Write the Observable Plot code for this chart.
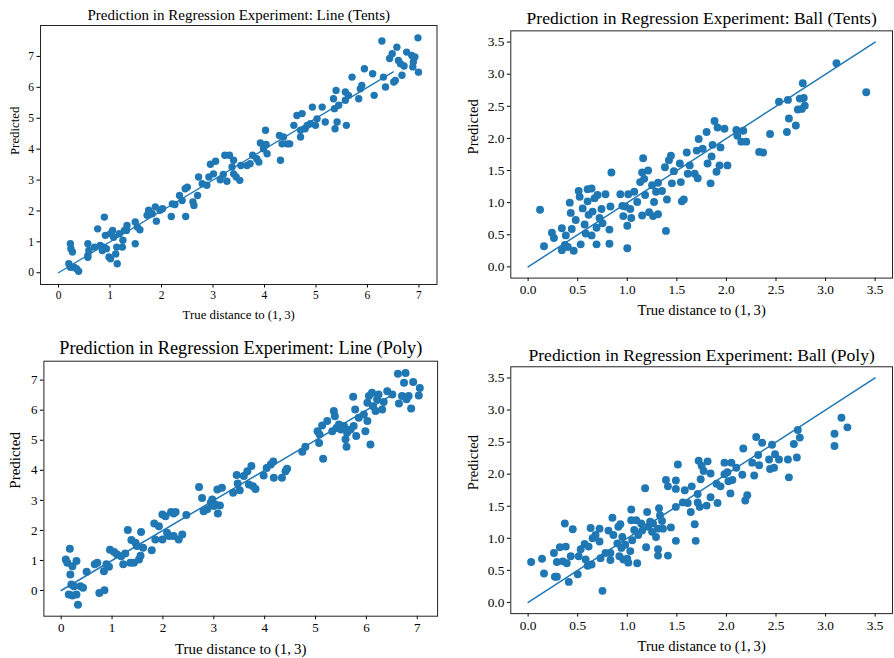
<!DOCTYPE html>
<html>
<head>
<meta charset="utf-8">
<script src="https://cdn.jsdelivr.net/npm/d3@7"></script>
<script src="https://cdn.jsdelivr.net/npm/@observablehq/plot@0.6"></script>
<style>
  html, body { margin: 0; padding: 0; background: #fff; overflow: hidden; }
  #wrap { position: relative; width: 894px; height: 658px; overflow: hidden; background: #fff; }
  #wrap > div { position: absolute; }
  svg { display: block; }
  svg, svg text { font-family: 'Liberation Serif','Times New Roman',serif !important; font-variant: normal !important; }
</style>
</head>
<body>
<div id="wrap">
  <div id="p1" style="left:0px;top:0px"></div>
  <div id="p2" style="left:447px;top:0px"></div>
  <div id="p3" style="left:0px;top:329px"></div>
  <div id="p4" style="left:447px;top:329px"></div>
</div>
<script>
// ---------- DATA ----------
const titles = [
  "Prediction in Regression Experiment: Line (Tents)",
  "Prediction in Regression Experiment: Ball (Tents)",
  "Prediction in Regression Experiment: Line (Poly)",
  "Prediction in Regression Experiment: Ball (Poly)"
];
const xLabel = "True distance to (1,\u20093)";
const yLabel = "Predicted";

const lineTicks = [0, 1, 2, 3, 4, 5, 6, 7];
const ballTicks = [0, 0.5, 1, 1.5, 2, 2.5, 3, 3.5];

// reference (ideal) lines: [true, predicted]
const lineRef = [[0, 0], [6.5, 6.5]];
const ballRef = [[0, 0], [3.5, 3.5]];

// [true distance, predicted]
const lineTents = [[0.23,0.94],[0.24,0.78],[0.27,0.67],[0.20,0.29],[0.23,0.18],[0.30,0.18],[0.39,0.05],[0.35,0.13],
[0.57,0.94],[0.57,0.56],[0.57,0.50],[0.59,0.72],[0.76,1.42],[0.70,0.83],[0.81,0.88],[0.89,1.80],[0.91,1.21],[0.88,0.83],[0.85,0.72],[0.93,0.78],[0.98,0.51],[1.01,0.45],[1.05,1.37],[1.01,1.26],[1.07,1.15],[1.11,0.61],[1.14,0.29],[1.13,0.83],[1.18,1.26],[1.25,1.05],[1.24,0.83],[1.28,1.37],[1.33,1.53],[1.32,1.37],[1.49,0.94],[1.49,1.64],[1.53,1.48],[1.58,1.39],[1.72,1.86],[1.75,2.02],[1.82,1.91],[1.88,2.13],[1.90,1.67],[1.97,2.02],[2.02,2.07],[2.19,1.82],[2.21,2.23],[2.26,2.21],[2.35,2.50],[2.40,2.34],[2.47,1.82],[2.46,2.72],[2.50,2.77],[2.61,2.29],[2.63,2.18],[2.70,2.50],[2.72,3.10],[2.79,2.88],[2.88,2.83],[2.92,3.10],[2.95,3.51],[3.05,3.61],[3.01,3.20],[3.14,3.01],[3.20,3.18],[3.23,3.80],[3.27,2.96],[3.32,3.80],[3.40,3.64],[3.37,3.42],[3.40,3.20],[3.45,3.10],[3.52,2.99],[3.54,3.47],[3.66,3.47],[3.72,3.53],[3.77,3.80],[3.85,3.69],[3.89,3.58],[3.92,4.20],[4.02,4.61],[4.03,4.15],[4.05,3.85],[3.98,4.01],[4.31,3.64],[4.29,4.44],[4.34,4.17],[4.37,4.39],[4.44,4.17],[4.49,4.17],[4.57,4.77],[4.63,5.09],[4.70,4.61],[4.70,4.39],[4.73,5.15],[4.79,4.66],[4.83,4.77],[4.89,4.82],[4.93,5.36],[4.99,4.77],[5.02,4.98],[5.12,5.36],[5.18,4.88],[5.34,5.63],[5.36,5.31],[5.37,4.66],[5.39,5.90],[5.41,4.88],[5.44,5.42],[5.57,5.58],[5.57,5.85],[5.59,4.77],[5.63,5.74],[5.70,6.33],[5.83,5.63],[5.86,5.95],[5.89,6.06],[5.94,6.60],[6.10,6.44],[6.13,5.74],[6.28,7.50],[6.31,6.33],[6.35,6.01],[6.43,6.93],[6.48,7.09],[6.51,6.17],[6.54,6.22],[6.57,7.30],[6.60,6.87],[6.64,6.76],[6.67,6.39],[6.71,6.69],[6.76,7.14],[6.86,7.03],[6.89,6.82],[6.92,6.98],[6.88,6.66],[6.98,7.60],[6.99,6.49]];

const ballTents = [[0.12,0.89],[0.16,0.32],[0.24,0.53],[0.26,0.45],[0.34,0.60],[0.34,0.26],[0.37,0.34],[0.38,0.49],[0.40,0.31],[0.42,1.00],[0.44,0.59],[0.46,0.25],[0.43,0.84],[0.48,0.73],[0.51,1.18],[0.52,1.09],[0.53,0.35],[0.55,0.91],[0.57,0.66],[0.58,0.52],[0.60,1.21],[0.60,1.02],[0.61,0.81],[0.64,1.22],[0.65,0.86],[0.64,0.49],[0.67,1.07],[0.69,0.35],[0.70,1.12],[0.69,0.61],[0.72,0.76],[0.74,0.90],[0.75,0.68],[0.78,1.13],[0.82,0.36],[0.82,0.58],[0.83,0.94],[0.84,1.47],[0.93,1.13],[0.95,0.95],[0.96,0.79],[0.98,0.94],[1.00,0.29],[1.00,0.64],[1.01,1.13],[1.03,0.90],[1.04,0.76],[1.07,1.17],[1.10,1.01],[1.13,1.32],[1.15,0.80],[1.15,1.47],[1.16,1.69],[1.17,1.37],[1.18,1.12],[1.21,1.50],[1.22,0.85],[1.25,1.27],[1.26,0.79],[1.27,1.01],[1.29,1.17],[1.31,0.82],[1.31,1.31],[1.35,1.18],[1.38,1.55],[1.39,0.56],[1.40,1.05],[1.42,1.66],[1.44,1.73],[1.45,1.30],[1.47,1.49],[1.53,1.61],[1.54,1.32],[1.55,1.02],[1.57,1.05],[1.60,1.78],[1.61,1.45],[1.63,1.58],[1.68,1.45],[1.70,1.81],[1.71,1.38],[1.72,1.99],[1.76,1.84],[1.80,2.10],[1.81,1.61],[1.84,1.30],[1.85,1.72],[1.86,1.90],[1.88,2.27],[1.90,1.48],[1.91,2.17],[1.93,1.58],[1.94,1.86],[1.98,2.15],[2.01,1.58],[2.10,2.13],[2.11,2.04],[2.15,1.95],[2.17,2.12],[2.20,1.95],[2.33,1.79],[2.37,1.78],[2.44,2.07],[2.53,2.57],[2.61,2.10],[2.62,2.60],[2.63,2.31],[2.70,2.20],[2.72,2.45],[2.74,2.62],[2.76,2.46],[2.77,2.86],[2.78,2.63],[2.79,2.51],[3.11,3.17],[3.41,2.72]];

const linePoly = [[0.09,1.03],[0.12,0.92],[0.17,1.39],[0.18,0.53],[0.22,0.81],[0.30,0.98],[0.20,0.20],[0.25,0.14],[0.15,-0.13],[0.22,-0.17],[0.30,-0.13],[0.33,-0.47],[0.38,0.14],[0.43,0.09],[0.50,0.62],[0.66,0.87],[0.71,0.92],[0.75,-0.08],[0.85,0.01],[0.84,0.64],[0.89,0.87],[0.94,0.79],[0.96,1.36],[1.04,1.28],[1.10,1.20],[1.18,1.14],[1.22,0.87],[1.26,1.23],[1.31,2.01],[1.36,0.92],[1.38,1.68],[1.43,0.92],[1.46,1.59],[1.49,1.48],[1.53,1.03],[1.56,1.16],[1.57,1.95],[1.61,1.42],[1.78,1.34],[1.83,2.23],[1.85,1.70],[1.92,2.14],[1.99,2.53],[1.99,1.70],[2.05,2.47],[2.08,1.92],[2.12,1.81],[2.16,2.61],[2.21,2.56],[2.25,2.61],[2.21,1.81],[2.31,1.70],[2.38,1.86],[2.46,2.51],[2.71,3.44],[2.77,3.08],[2.80,2.64],[2.87,2.70],[2.94,2.92],[2.97,3.03],[3.00,2.81],[3.03,2.86],[3.08,2.56],[3.07,3.36],[3.12,2.83],[3.16,3.42],[3.38,3.25],[3.45,3.84],[3.47,3.56],[3.51,3.34],[3.59,3.81],[3.66,3.97],[3.69,3.53],[3.74,4.14],[3.77,3.47],[3.82,3.38],[3.98,3.83],[4.04,4.08],[4.12,4.19],[4.17,4.29],[4.18,3.75],[4.34,3.75],[4.41,3.97],[4.44,4.05],[4.74,4.62],[4.80,4.78],[5.07,4.91],[5.04,5.30],[5.08,5.19],[5.13,5.49],[5.15,4.38],[5.23,5.64],[5.33,5.30],[5.36,5.97],[5.38,5.80],[5.41,5.41],[5.46,5.52],[5.50,5.36],[5.56,5.47],[5.59,5.03],[5.61,4.78],[5.62,5.25],[5.69,5.36],[5.74,6.45],[5.75,5.47],[5.78,6.02],[5.80,5.14],[5.85,5.75],[5.95,5.86],[5.98,5.30],[6.02,5.64],[6.02,6.25],[6.05,6.47],[6.08,4.86],[6.11,6.58],[6.13,6.13],[6.18,5.97],[6.21,6.36],[6.24,6.52],[6.31,6.02],[6.34,6.27],[6.41,6.63],[6.51,6.52],[6.62,7.21],[6.64,6.22],[6.70,6.47],[6.74,6.91],[6.77,7.24],[6.79,6.36],[6.83,6.47],[6.88,6.06],[6.92,6.94],[7.03,6.49],[7.05,6.74]];

const ballPoly = [[0.03,0.63],[0.14,0.68],[0.16,0.45],[0.26,0.77],[0.27,0.40],[0.29,0.40],[0.29,0.63],[0.32,0.86],[0.35,0.64],[0.37,1.23],[0.38,0.87],[0.39,0.61],[0.41,0.32],[0.43,0.72],[0.45,1.14],[0.50,0.44],[0.51,0.72],[0.53,0.83],[0.57,0.91],[0.58,0.67],[0.60,0.57],[0.61,0.87],[0.63,1.16],[0.64,0.59],[0.65,1.00],[0.68,1.05],[0.72,1.15],[0.72,0.95],[0.73,0.69],[0.75,0.18],[0.78,0.77],[0.81,1.12],[0.83,0.66],[0.83,0.77],[0.85,1.32],[0.86,1.05],[0.90,0.92],[0.91,1.18],[0.92,0.72],[0.93,1.22],[0.94,0.85],[0.95,1.02],[0.96,0.67],[0.98,0.90],[1.00,0.68],[1.01,0.62],[1.03,0.80],[1.04,1.45],[1.04,1.28],[1.05,0.97],[1.07,1.13],[1.09,1.28],[1.10,0.61],[1.11,1.05],[1.14,1.23],[1.15,1.12],[1.18,1.78],[1.19,0.86],[1.20,1.41],[1.21,1.18],[1.23,1.26],[1.25,1.10],[1.26,1.23],[1.29,1.02],[1.31,1.15],[1.31,0.83],[1.31,0.73],[1.32,1.47],[1.33,1.36],[1.35,1.27],[1.36,1.15],[1.39,1.91],[1.41,1.81],[1.41,0.73],[1.44,1.17],[1.49,1.90],[1.49,1.77],[1.49,1.49],[1.49,0.96],[1.51,2.15],[1.56,1.56],[1.58,1.75],[1.61,1.55],[1.64,1.41],[1.65,1.81],[1.68,1.22],[1.69,0.96],[1.71,1.69],[1.71,1.56],[1.72,2.21],[1.73,1.49],[1.75,2.13],[1.74,1.92],[1.77,2.05],[1.80,1.51],[1.81,2.20],[1.84,1.64],[1.84,2.01],[1.90,1.85],[1.91,1.55],[1.94,1.81],[1.98,2.18],[1.98,2.00],[2.01,2.03],[2.02,1.89],[2.04,1.70],[2.05,2.18],[2.06,1.91],[2.10,2.10],[2.16,1.99],[2.17,2.40],[2.19,1.59],[2.21,1.67],[2.26,2.18],[2.28,1.98],[2.30,2.58],[2.32,2.30],[2.33,2.14],[2.36,2.49],[2.43,2.23],[2.44,2.08],[2.46,2.46],[2.48,2.10],[2.49,2.31],[2.53,2.23],[2.62,2.23],[2.63,1.95],[2.68,2.47],[2.71,2.26],[2.72,2.69],[2.74,2.57],[3.09,2.63],[3.09,2.44],[3.16,2.88],[3.22,2.73]];

// ---------- DRAWING ----------
const FONT = "'Liberation Serif','Times New Roman',serif";
const BLUE = "#1f77b4";

function panel(cfg) {
  return Plot.plot({
    width: cfg.W, height: 329,
    marginLeft: cfg.mL, marginRight: cfg.mR, marginTop: cfg.mT, marginBottom: cfg.mB,
    style: { fontFamily: FONT, fontSize: cfg.tickFont + "px", color: "#000", background: "#fff", overflow: "visible" },
    x: { domain: cfg.xDomain, ticks: cfg.ticks, tickFormat: cfg.fmt, tickSize: 3.5, tickPadding: 3, label: null },
    y: { domain: cfg.yDomain, ticks: cfg.ticks, tickFormat: cfg.fmt, tickSize: 3.5, tickPadding: 3, label: null },
    marks: [
      Plot.dot(cfg.data, { x: d => d[0], y: d => d[1], r: cfg.r, fill: BLUE, stroke: "none" }),
      Plot.line(cfg.ref, { x: d => d[0], y: d => d[1], stroke: BLUE, strokeWidth: cfg.lw }),
      Plot.frame({ stroke: "#222", strokeWidth: 1 }),
      Plot.text([cfg.title], { text: d => d, frameAnchor: "top", dy: cfg.titleDy, fontSize: cfg.titleFont, lineAnchor: "middle", fill: "#000" }),
      Plot.text([xLabel], { text: d => d, frameAnchor: "bottom", dy: cfg.xlabDy, fontSize: cfg.labFont, lineAnchor: "middle", fill: "#000" }),
      Plot.text([yLabel], { text: d => d, frameAnchor: "left", dx: cfg.ylabDx, rotate: -90, fontSize: cfg.labFont, lineAnchor: "middle", fill: "#000" })
    ]
  });
}

const intFmt = d3.format("d");
const decFmt = d3.format(".1f");

document.getElementById("p1").append(panel({
  data: lineTents, ref: lineRef, title: titles[0],
  W: 447, mL: 40, mR: 10.5, mT: 25, mB: 45,
  xDomain: [-0.35, 7.35], yDomain: [-0.38, 8.0], ticks: lineTicks, fmt: intFmt,
  r: 3.7, lw: 1.3, tickFont: 11.5, titleFont: 15, titleDy: -10.7, labFont: 12.8, xlabDy: 30, ylabDx: -26
}));
document.getElementById("p2").append(panel({
  data: ballTents, ref: ballRef, title: titles[1],
  W: 452, mL: 64, mR: 2, mT: 30.7, mB: 48.3,
  xDomain: [-0.175, 3.675], yDomain: [-0.175, 3.675], ticks: ballTicks, fmt: decFmt,
  r: 4, lw: 1.5, tickFont: 13.5, titleFont: 17.7, titleDy: -13, labFont: 14.8, xlabDy: 32.6, ylabDx: -38
}));
document.getElementById("p3").append(panel({
  data: linePoly, ref: lineRef, title: titles[2],
  W: 447, mL: 43.4, mR: 9.9, mT: 31.7, mB: 42.3,
  xDomain: [-0.34, 7.4], yDomain: [-0.855, 7.63], ticks: lineTicks, fmt: intFmt,
  r: 4, lw: 1.5, tickFont: 13, titleFont: 18.3, titleDy: -13.4, labFont: 15, xlabDy: 33.3, ylabDx: -28.6
}));
document.getElementById("p4").append(panel({
  data: ballPoly, ref: ballRef, title: titles[3],
  W: 452, mL: 64, mR: 2, mT: 37.7, mB: 41.7,
  xDomain: [-0.175, 3.675], yDomain: [-0.175, 3.675], ticks: ballTicks, fmt: decFmt,
  r: 4, lw: 1.5, tickFont: 13.5, titleFont: 17.8, titleDy: -12, labFont: 14.8, xlabDy: 33, ylabDx: -38
}));
</script>
</body>
</html>
